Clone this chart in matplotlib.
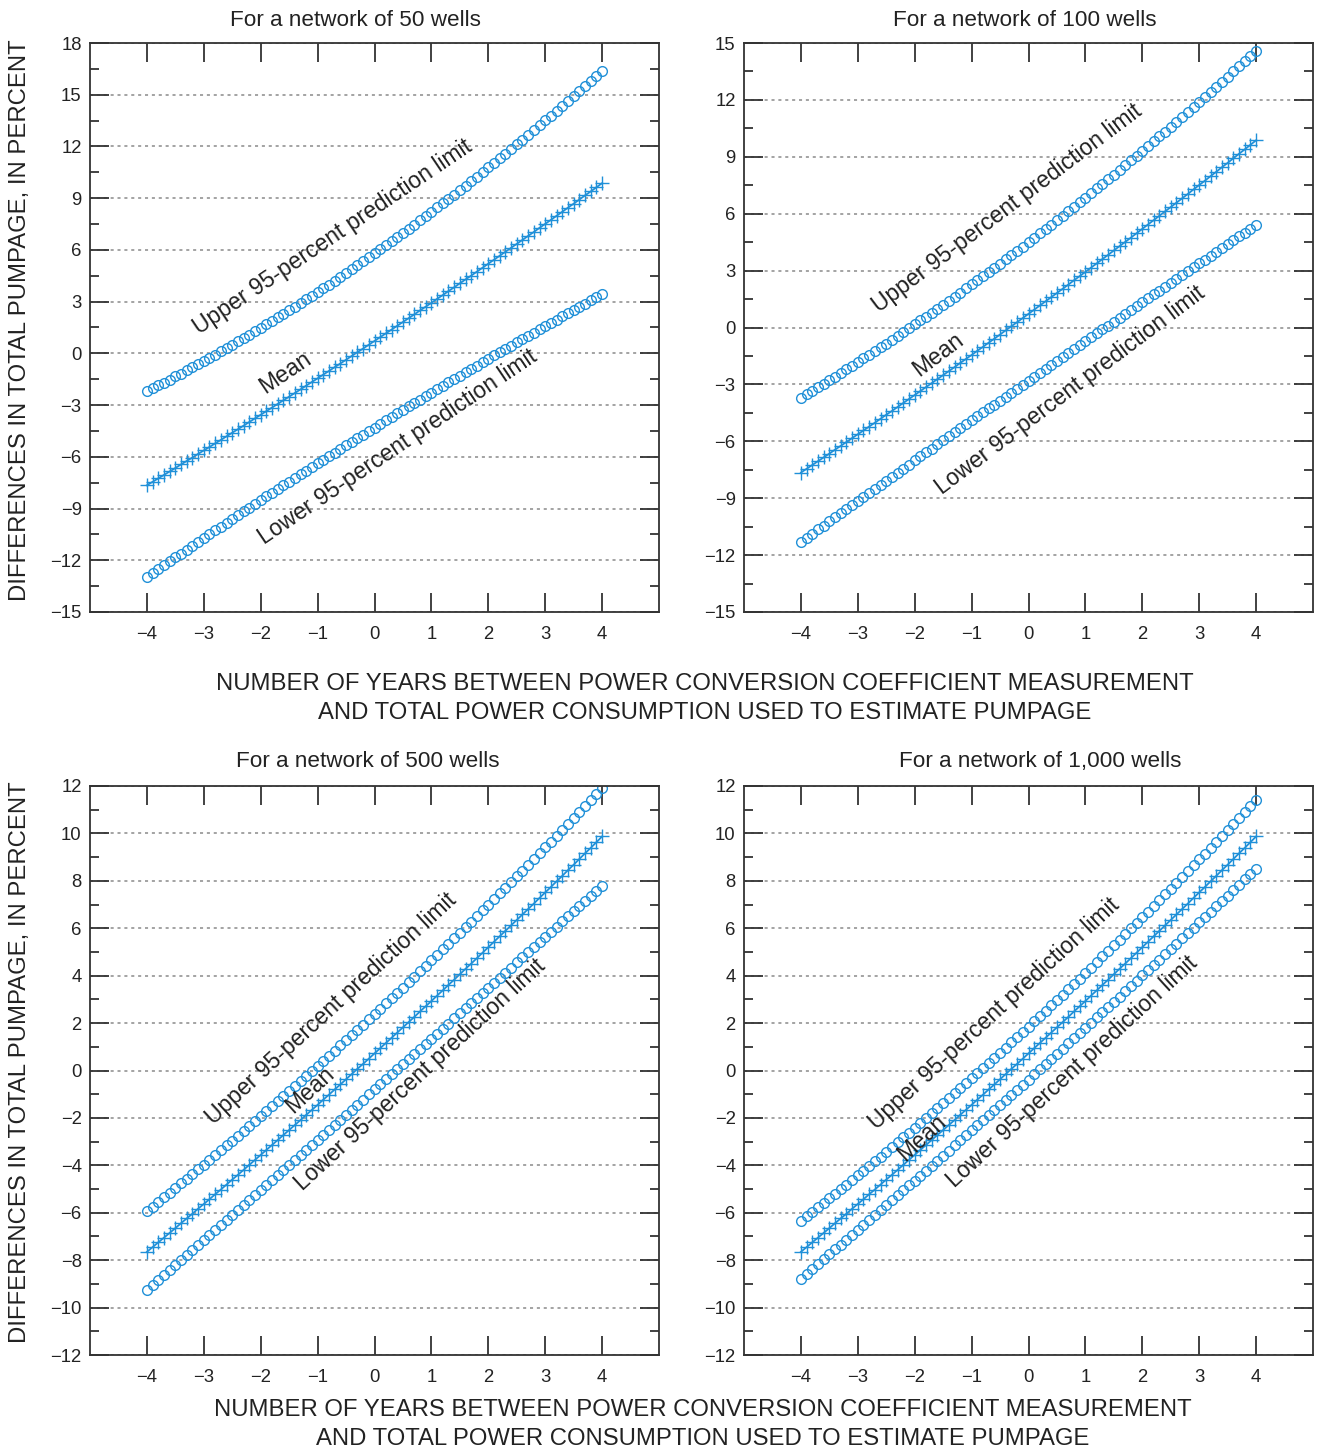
import numpy as np
import matplotlib
matplotlib.use('Agg')
import matplotlib.pyplot as plt

# Years between coefficient measurement and power-consumption data (every 0.1 yr)
years = np.round(np.arange(-40, 41) / 10, 1)

# Mean difference in total pumpage, percent (same regression for every network size)
mean_pct = [
    -7.65, -7.45, -7.25, -7.05, -6.85, -6.65, -6.44, -6.24, -6.04, -5.83,
    -5.63, -5.43, -5.22, -5.02, -4.81, -4.60, -4.40, -4.19, -3.98, -3.77,
    -3.56, -3.35, -3.14, -2.93, -2.72, -2.51, -2.30, -2.09, -1.87, -1.66,
    -1.45, -1.23, -1.02, -0.80, -0.59, -0.37, -0.15, 0.07, 0.28, 0.50,
    0.72, 0.94, 1.16, 1.38, 1.60, 1.82, 2.04, 2.26, 2.49, 2.71,
    2.93, 3.16, 3.38, 3.61, 3.83, 4.06, 4.29, 4.51, 4.74, 4.97,
    5.20, 5.43, 5.66, 5.89, 6.12, 6.35, 6.58, 6.81, 7.04, 7.28,
    7.51, 7.74, 7.98, 8.21, 8.45, 8.68, 8.92, 9.16, 9.39, 9.63,
    9.87]

# 95-percent prediction limits, 50 wells
upper_50 = [
    -2.20, -2.03, -1.86, -1.69, -1.52, -1.34, -1.17, -0.99, -0.81, -0.63,
    -0.44, -0.26, -0.07, 0.11, 0.30, 0.50, 0.69, 0.88, 1.08, 1.28,
    1.48, 1.68, 1.88, 2.08, 2.29, 2.50, 2.70, 2.91, 3.13, 3.34,
    3.56, 3.77, 3.99, 4.21, 4.43, 4.66, 4.88, 5.11, 5.34, 5.57,
    5.80, 6.03, 6.27, 6.50, 6.74, 6.98, 7.22, 7.47, 7.71, 7.96,
    8.21, 8.46, 8.71, 8.96, 9.21, 9.47, 9.73, 9.99, 10.25, 10.51,
    10.78, 11.04, 11.31, 11.58, 11.85, 12.12, 12.39, 12.67, 12.95, 13.23,
    13.51, 13.79, 14.07, 14.36, 14.64, 14.93, 15.22, 15.51, 15.81, 16.10,
    16.40]
lower_50 = [
    -12.97, -12.74, -12.51, -12.29, -12.06, -11.83, -11.61, -11.38, -11.16, -10.94,
    -10.71, -10.49, -10.27, -10.05, -9.83, -9.61, -9.39, -9.17, -8.95, -8.73,
    -8.52, -8.30, -8.09, -7.87, -7.66, -7.44, -7.23, -7.01, -6.80, -6.59,
    -6.38, -6.17, -5.96, -5.75, -5.54, -5.33, -5.12, -4.92, -4.71, -4.51,
    -4.30, -4.10, -3.89, -3.69, -3.48, -3.28, -3.08, -2.88, -2.68, -2.48,
    -2.28, -2.08, -1.88, -1.68, -1.49, -1.29, -1.10, -0.90, -0.71, -0.51,
    -0.32, -0.12, 0.07, 0.26, 0.45, 0.64, 0.83, 1.02, 1.21, 1.40,
    1.59, 1.77, 1.96, 2.15, 2.33, 2.52, 2.70, 2.88, 3.07, 3.25,
    3.43]

# 100 wells
upper_100 = [
    -3.70, -3.52, -3.34, -3.15, -2.97, -2.78, -2.59, -2.40, -2.21, -2.02,
    -1.83, -1.63, -1.44, -1.24, -1.05, -0.85, -0.65, -0.45, -0.25, -0.04,
    0.16, 0.37, 0.57, 0.78, 0.99, 1.20, 1.41, 1.63, 1.84, 2.06,
    2.27, 2.49, 2.71, 2.93, 3.15, 3.37, 3.59, 3.82, 4.04, 4.27,
    4.50, 4.73, 4.96, 5.19, 5.42, 5.66, 5.89, 6.13, 6.37, 6.61,
    6.85, 7.09, 7.33, 7.57, 7.82, 8.06, 8.31, 8.56, 8.81, 9.06,
    9.31, 9.57, 9.82, 10.08, 10.33, 10.59, 10.85, 11.11, 11.37, 11.63,
    11.90, 12.16, 12.43, 12.70, 12.96, 13.23, 13.50, 13.78, 14.05, 14.32,
    14.60]
lower_100 = [
    -11.30, -11.08, -10.87, -10.65, -10.44, -10.22, -10.01, -9.79, -9.58, -9.36,
    -9.15, -8.93, -8.72, -8.50, -8.29, -8.08, -7.86, -7.65, -7.44, -7.23,
    -7.01, -6.80, -6.59, -6.38, -6.16, -5.95, -5.74, -5.53, -5.32, -5.11,
    -4.90, -4.69, -4.48, -4.27, -4.06, -3.85, -3.64, -3.43, -3.22, -3.01,
    -2.80, -2.59, -2.38, -2.17, -1.97, -1.76, -1.55, -1.34, -1.14, -0.93,
    -0.72, -0.51, -0.31, -0.10, 0.10, 0.31, 0.52, 0.72, 0.93, 1.13,
    1.34, 1.54, 1.75, 1.95, 2.16, 2.36, 2.56, 2.77, 2.97, 3.18,
    3.38, 3.58, 3.78, 3.99, 4.19, 4.39, 4.59, 4.80, 5.00, 5.20,
    5.40]

# 500 wells
upper_500 = [
    -5.93, -5.74, -5.54, -5.35, -5.15, -4.96, -4.76, -4.56, -4.36, -4.17,
    -3.97, -3.77, -3.56, -3.36, -3.16, -2.96, -2.75, -2.55, -2.34, -2.13,
    -1.93, -1.72, -1.51, -1.30, -1.09, -0.88, -0.67, -0.45, -0.24, -0.03,
    0.19, 0.40, 0.62, 0.84, 1.06, 1.28, 1.49, 1.71, 1.94, 2.16,
    2.38, 2.60, 2.83, 3.05, 3.28, 3.50, 3.73, 3.96, 4.19, 4.42,
    4.65, 4.88, 5.11, 5.34, 5.57, 5.81, 6.04, 6.28, 6.51, 6.75,
    6.99, 7.23, 7.47, 7.71, 7.95, 8.19, 8.43, 8.67, 8.92, 9.16,
    9.41, 9.65, 9.90, 10.15, 10.39, 10.64, 10.89, 11.14, 11.40, 11.65,
    11.90]
lower_500 = [
    -9.27, -9.06, -8.85, -8.64, -8.43, -8.22, -8.01, -7.80, -7.59, -7.38,
    -7.16, -6.95, -6.74, -6.53, -6.32, -6.11, -5.90, -5.69, -5.47, -5.26,
    -5.05, -4.84, -4.63, -4.42, -4.20, -3.99, -3.78, -3.57, -3.35, -3.14,
    -2.93, -2.72, -2.50, -2.29, -2.08, -1.87, -1.65, -1.44, -1.23, -1.01,
    -0.80, -0.59, -0.37, -0.16, 0.05, 0.27, 0.48, 0.70, 0.91, 1.12,
    1.34, 1.55, 1.77, 1.98, 2.20, 2.41, 2.62, 2.84, 3.05, 3.27,
    3.48, 3.70, 3.91, 4.13, 4.34, 4.56, 4.78, 4.99, 5.21, 5.42,
    5.64, 5.85, 6.07, 6.29, 6.50, 6.72, 6.93, 7.15, 7.37, 7.58,
    7.80]

# 1,000 wells
upper_1000 = [
    -6.33, -6.14, -5.95, -5.77, -5.57, -5.38, -5.19, -5.00, -4.81, -4.61,
    -4.42, -4.22, -4.02, -3.83, -3.63, -3.43, -3.23, -3.02, -2.82, -2.62,
    -2.41, -2.21, -2.00, -1.80, -1.59, -1.38, -1.17, -0.96, -0.75, -0.54,
    -0.33, -0.11, 0.10, 0.32, 0.53, 0.75, 0.97, 1.19, 1.41, 1.63,
    1.85, 2.07, 2.30, 2.52, 2.75, 2.97, 3.20, 3.43, 3.65, 3.88,
    4.11, 4.34, 4.58, 4.81, 5.04, 5.28, 5.51, 5.75, 5.99, 6.23,
    6.46, 6.70, 6.95, 7.19, 7.43, 7.67, 7.92, 8.16, 8.41, 8.66,
    8.90, 9.15, 9.40, 9.65, 9.90, 10.16, 10.41, 10.66, 10.92, 11.17,
    11.43]
lower_1000 = [
    -8.78, -8.58, -8.37, -8.17, -7.96, -7.76, -7.55, -7.35, -7.14, -6.93,
    -6.73, -6.52, -6.31, -6.10, -5.90, -5.69, -5.48, -5.27, -5.06, -4.85,
    -4.64, -4.43, -4.22, -4.01, -3.80, -3.59, -3.38, -3.16, -2.95, -2.74,
    -2.53, -2.31, -2.10, -1.89, -1.67, -1.46, -1.24, -1.03, -0.81, -0.60,
    -0.38, -0.16, 0.05, 0.27, 0.49, 0.71, 0.92, 1.14, 1.36, 1.58,
    1.80, 2.02, 2.24, 2.46, 2.68, 2.90, 3.12, 3.34, 3.56, 3.79,
    4.01, 4.23, 4.45, 4.68, 4.90, 5.12, 5.35, 5.57, 5.80, 6.02,
    6.25, 6.47, 6.70, 6.93, 7.15, 7.38, 7.61, 7.84, 8.06, 8.29,
    8.52]

titles = ['For a network of 50 wells', 'For a network of 100 wells',
          'For a network of 500 wells', 'For a network of 1,000 wells']
xlabel_lines = ['NUMBER OF YEARS BETWEEN POWER CONVERSION COEFFICIENT MEASUREMENT',
                'AND TOTAL POWER CONSUMPTION USED TO ESTIMATE PUMPAGE']
ylabel = 'DIFFERENCES IN TOTAL PUMPAGE, IN PERCENT'
upper_text = 'Upper 95-percent prediction limit'
lower_text = 'Lower 95-percent prediction limit'

plt.rcParams['font.family'] = ['Liberation Sans', 'DejaVu Sans']
BLUE = '#2090d8'
INK = '#222222'
W, H = 1320, 1454
fig = plt.figure(figsize=(13.2, 14.54), dpi=100)


def add_ax(l, t, r, b):
    return fig.add_axes([l / W, 1 - b / H, (r - l) / W, (b - t) / H])


def style(ax, ylo, yhi, major, minor):
    ax.set_xlim(-5, 5)
    ax.set_ylim(ylo, yhi)
    ax.set_xticks(range(-4, 5))
    ax.set_yticks(list(range(ylo, yhi + 1, major)))
    ax.set_yticks(list(np.arange(ylo, yhi + 0.01, minor)), minor=True)
    ax.tick_params(which='both', direction='in', top=True, right=True,
                   color='#333333', width=1.3, labelsize=13.3, labelcolor=INK)
    ax.tick_params(which='major', length=14)
    ax.tick_params(which='minor', length=6.5)
    ax.tick_params(axis='x', pad=10)
    ax.tick_params(axis='y', pad=6)
    ax.grid(axis='y', which='major', linestyle=(0, (2, 2.5)), color='#8a8a8a', linewidth=1.1)
    for s in ax.spines.values():
        s.set_color('#333333')
        s.set_linewidth(1.3)


# box (px), y-limits/ticks, series, title centre (px), label spots (x, y) and angle
panels = [
    ((90, 43, 659, 612), (-15, 18, 3, 1.5), upper_50, lower_50, (355, 20),
     [(-0.73, 6.75), (-1.57, -1.14), (0.40, -5.43)], 34),
    ((744, 43, 1313, 612), (-15, 15, 3, 1.5), upper_100, lower_100, (1025, 20),
     [(-0.38, 6.30), (-1.59, -1.45), (0.73, -3.29)], 37),
    ((90, 786, 659, 1355), (-12, 12, 2, 1), upper_500, lower_500, (368, 762),
     [(-0.76, 2.60), (-1.13, -0.82), (0.80, -0.19)], 42.5),
    ((744, 786, 1313, 1355), (-12, 12, 2, 1), upper_1000, lower_1000, (1040, 762),
     [(-0.61, 2.38), (-1.87, -2.85), (0.76, -0.06)], 42.5),
]

for (box, lim, up, lo, tpos, spots, ang), title in zip(panels, titles):
    ax = add_ax(*box)
    style(ax, *lim)
    ax.plot(years, up, 'o', mfc='none', mec=BLUE, ms=7, mew=1.0)
    ax.plot(years, mean_pct, '-', color=BLUE, lw=1.3, marker='+', ms=10, mew=1.0)
    ax.plot(years, lo, 'o', mfc='none', mec=BLUE, ms=7, mew=1.0)
    for (x, y), txt in zip(spots, [upper_text, 'Mean', lower_text]):
        ax.text(x, y, txt, rotation=ang, rotation_mode='anchor', ha='center', va='center',
                fontsize=16.5, color=INK)
    fig.text(tpos[0] / W, 1 - tpos[1] / H, title, ha='center', va='center',
             fontsize=16.2, color=INK)

for cx, ys in [(705, (684, 713)), (703, (1410, 1439))]:
    for line, y in zip(xlabel_lines, ys):
        fig.text(cx / W, 1 - y / H, line, ha='center', va='center', fontsize=17.2, color=INK)

for cy in (320, 1062):
    fig.text(20 / W, 1 - cy / H, ylabel, rotation=90, ha='center', va='center',
             fontsize=17.2, color=INK)

fig.savefig('out.png', dpi=100)
